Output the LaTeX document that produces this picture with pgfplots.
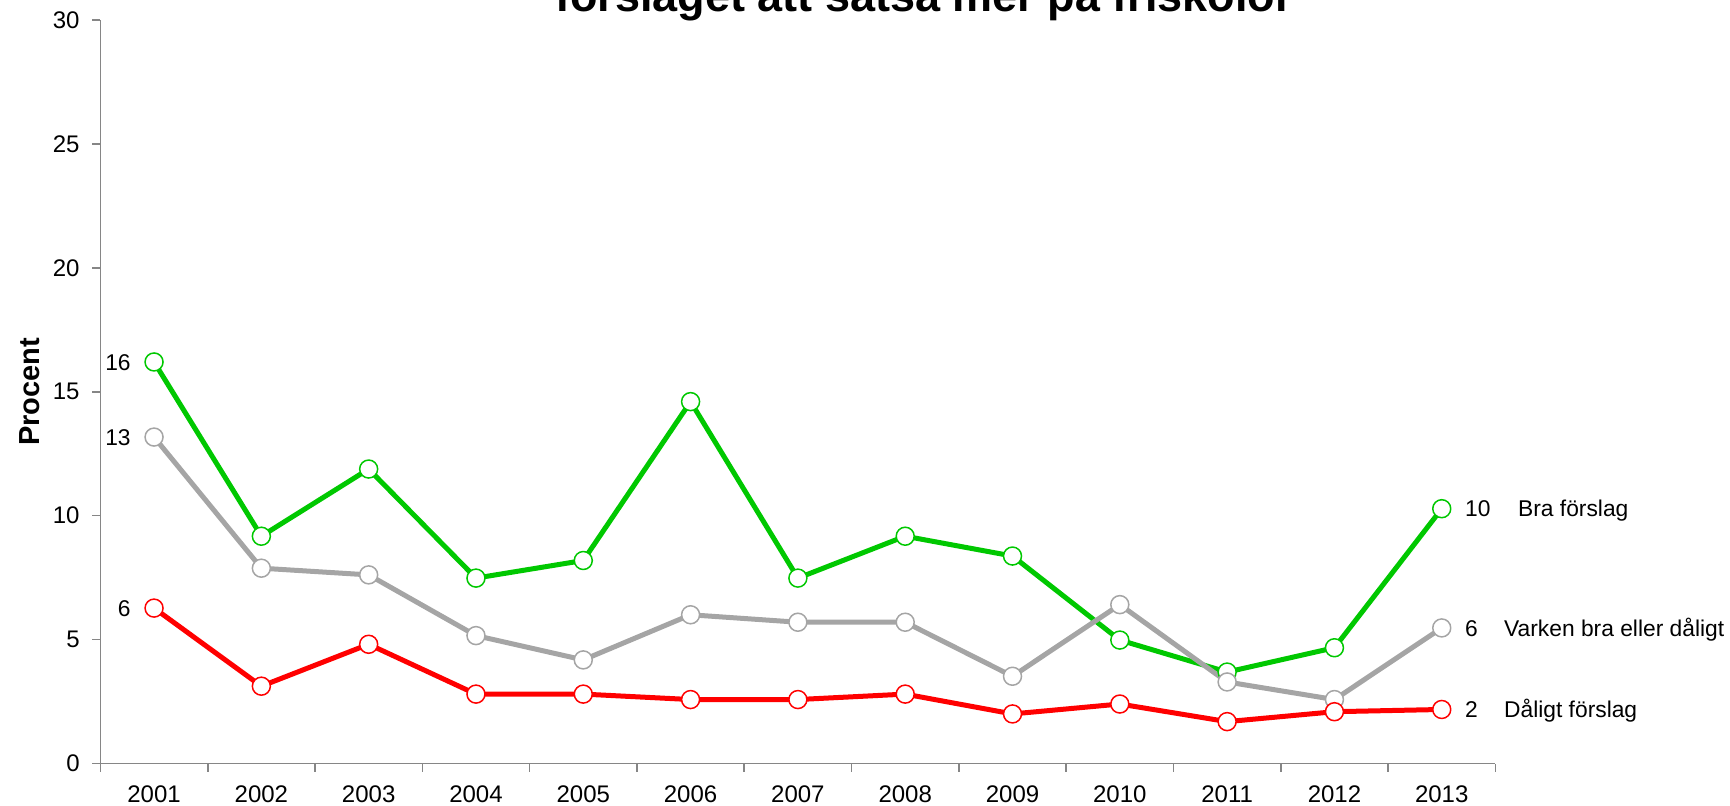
\documentclass[border=0pt]{standalone}
\usepackage{pgfplots}
\pgfplotsset{compat=1.18}
\usepackage{fontspec}
\setmainfont{Liberation Sans}
\definecolor{cgreen}{RGB}{0,200,0}
\definecolor{cred}{RGB}{255,0,0}
\definecolor{cgray}{RGB}{165,165,165}
\definecolor{caxis}{RGB}{134,134,134}
\begin{document}
\begin{tikzpicture}
\begin{axis}[
  at={(50.2pt,20.75pt)}, anchor=south west,
  scale only axis, width=697.5pt, height=371.8pt,
  xmin=-0.5, xmax=12.5, ymin=0, ymax=30,
  axis x line*=bottom, axis y line*=left,
  axis line style={draw=caxis, line width=0.8pt},
  tick style={draw=caxis, line width=0.8pt},
  tick align=outside, major tick length=4pt,
  xtick={-0.5,0.5,...,12.5}, xticklabels={},
  extra x ticks={0,1,...,12},
  extra x tick labels={2001,2002,2003,2004,2005,2006,2007,2008,2009,2010,2011,2012,2013},
  extra x tick style={major tick length=0pt, tick style={draw=none},
    xticklabel style={anchor=north, inner sep=0pt, yshift=-10.75pt}},
  ytick={0,5,...,30},
  yticklabel style={anchor=east, inner sep=0pt, xshift=-6.2pt},
  tick label style={font=\fontsize{12}{14}\selectfont},
  /pgf/number format/assume math mode=true,
  ylabel={Procent},
  ylabel style={font=\fontsize{14.5}{17}\selectfont\bfseries, at={(axis description cs:-0.051,0.5)}, anchor=center},
  clip=false,
  every axis plot/.append style={line width=2.5pt, line join=round, mark=*, mark size=4.5pt},
]
\addplot[cgreen, mark options={fill=white, draw=cgreen, line width=0.75pt}] coordinates {
 (0,16.2) (1,9.17) (2,11.88) (3,7.48) (4,8.19) (5,14.6) (6,7.48) (7,9.17) (8,8.37) (9,4.98) (10,3.69) (11,4.67) (12,10.28)};
\addplot[cgray, mark options={fill=white, draw=cgray, line width=0.75pt}] coordinates {
 (0,13.17) (1,7.88) (2,7.61) (3,5.16) (4,4.18) (5,6.0) (6,5.7) (7,5.7) (8,3.52) (9,6.41) (10,3.29) (11,2.58) (12,5.47)};
\addplot[cred, mark options={fill=white, draw=cred, line width=0.75pt}] coordinates {
 (0,6.27) (1,3.12) (2,4.81) (3,2.8) (4,2.8) (5,2.58) (6,2.58) (7,2.8) (8,2.0) (9,2.4) (10,1.69) (11,2.09) (12,2.18)};
\begin{scope}[every node/.style={font=\fontsize{11.4}{14}\selectfont, inner sep=0pt}]
\node[anchor=base east, xshift=-11.5pt, yshift=-4.1pt] at (axis cs:0,16.2) {16};
\node[anchor=base east, xshift=-11.5pt, yshift=-4.1pt] at (axis cs:0,13.17) {13};
\node[anchor=base east, xshift=-11.5pt, yshift=-4.1pt] at (axis cs:0,6.27) {6};
\node[anchor=base west, xshift=11.5pt, yshift=-4.1pt] at (axis cs:12,10.28) {10};
\node[anchor=base west, xshift=38pt, yshift=-4.1pt] at (axis cs:12,10.28) {Bra förslag};
\node[anchor=base west, xshift=11.5pt, yshift=-4.1pt] at (axis cs:12,5.47) {6};
\node[anchor=base west, xshift=31pt, yshift=-4.1pt] at (axis cs:12,5.47) {Varken bra eller dåligt};
\node[anchor=base west, xshift=11.5pt, yshift=-4.1pt] at (axis cs:12,2.18) {2};
\node[anchor=base west, xshift=31pt, yshift=-4.1pt] at (axis cs:12,2.18) {Dåligt förslag};
\end{scope}
\end{axis}
\node[overlay, anchor=base, inner sep=0pt, font=\fontsize{22.5}{27}\selectfont\bfseries] at (462pt,396.5pt) {förslaget att satsa mer på friskolor};
\pgfresetboundingbox
\useasboundingbox (0,0) rectangle (865pt,402.5pt);
\end{tikzpicture}
\end{document}
